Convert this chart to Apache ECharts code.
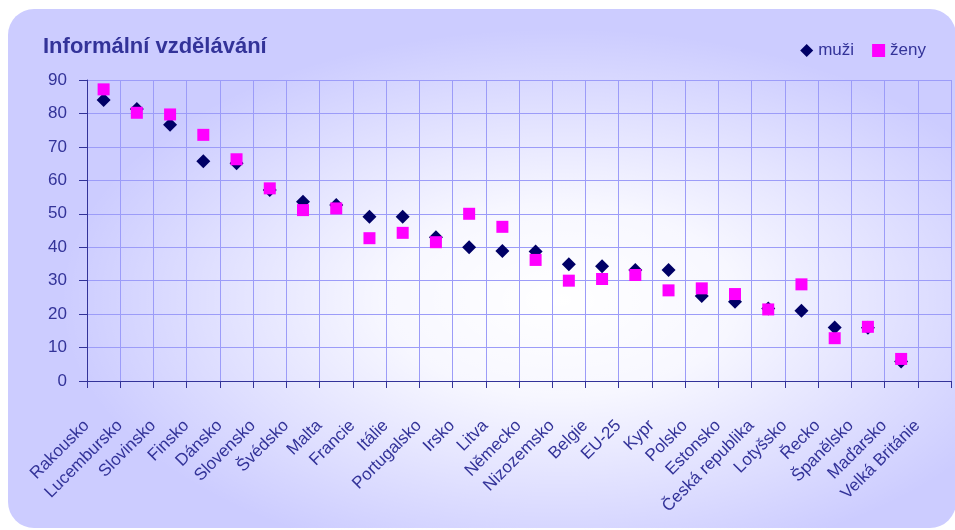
<!DOCTYPE html>
<html>
<head>
<meta charset="utf-8">
<script src="https://cdn.jsdelivr.net/npm/echarts@6/dist/echarts.min.js"></script>
<style>
html, body { margin: 0; padding: 0; background: #fff; }
#chart { width: 955px; height: 530px; }
</style>
</head>
<body>
<div id="chart"></div>
<script>
const countries = ["Rakousko", "Lucembursko", "Slovinsko", "Finsko", "Dánsko", "Slovensko", "Švédsko", "Malta",
    "Francie", "Itálie", "Portugalsko", "Irsko", "Litva", "Německo", "Nizozemsko", "Belgie", "EU-25", "Kypr",
    "Polsko", "Estonsko", "Česká republika", "Lotyšsko", "Řecko", "Španělsko", "Maďarsko", "Velká Británie"];
const men = [84.0, 81.3, 76.6, 65.7, 65.1, 57.1, 53.6, 52.6, 49.1, 49.1, 43.0, 40.0, 38.9, 38.7, 34.9, 34.3,
    33.2, 33.2, 25.4, 23.7, 21.7, 21.0, 16.0, 15.9, 5.8, null];
const women = [87.2, 80.2, 79.7, 73.6, 66.3, 57.6, 51.1, 51.6, 42.7, 44.3, 41.5, 50.0, 46.1, 36.2, 30.0, 30.5,
    31.7, 27.1, 27.7, 26.0, 21.4, 28.9, 12.8, 16.2, 6.6, null];
const yTicks = { min: 0, max: 90, interval: 10 };

const font = 'Arial, "Liberation Sans", sans-serif';
const textColor = '#333399';

const chart = echarts.init(document.getElementById('chart'));

chart.setOption({
    animation: false,
    textStyle: { fontFamily: font },
    graphic: [
        {
            type: 'rect', left: 8, top: 9, z: -10,
            shape: { width: 948, height: 519, r: 26 },
            style: { fill: '#ccccff' }
        },
        {
            type: 'circle', x: 560, y: 300, scaleX: 1.25, scaleY: 0.68, z: -9,
            shape: { cx: 0, cy: 0, r: 400 },
            style: {
                fill: new echarts.graphic.RadialGradient(0.5, 0.5, 0.5, [
                    { offset: 0, color: 'rgba(255,255,255,1)' },
                    { offset: 0.35, color: 'rgba(255,255,255,0.85)' },
                    { offset: 1, color: 'rgba(255,255,255,0)' }
                ])
            }
        }
    ],
    title: {
        text: 'Informální vzdělávání',
        left: 38, top: 31,
        textStyle: { fontFamily: font, fontSize: 22, fontWeight: 'bold', color: textColor }
    },
    legend: {
        right: 24, top: 37,
        itemWidth: 13, itemHeight: 13, itemGap: 18,
        textStyle: { fontFamily: font, fontSize: 17, color: textColor },
        data: [
            { name: 'muži', icon: 'diamond' },
            { name: 'ženy', icon: 'rect' }
        ]
    },
    grid: { left: 87, right: 4, top: 80, bottom: 149 },
    xAxis: {
        type: 'category',
        data: countries,
        boundaryGap: true,
        axisLine: { lineStyle: { color: '#333399', width: 1 } },
        axisTick: { show: true, length: 7, lineStyle: { color: '#333399' } },
        axisLabel: {
            interval: 0, rotate: 45, margin: 25, padding: [0, 24, 0, 0],
            fontFamily: font, fontSize: 17, color: textColor
        },
        splitLine: { show: true, lineStyle: { color: '#9c9cf8', width: 1 } }
    },
    yAxis: {
        type: 'value',
        min: yTicks.min, max: yTicks.max, interval: yTicks.interval,
        axisLine: { show: true, lineStyle: { color: '#333399', width: 1 } },
        axisTick: { show: true, length: 8, lineStyle: { color: '#333399' } },
        axisLabel: { margin: 20, fontFamily: font, fontSize: 17, color: textColor },
        splitLine: { show: true, lineStyle: { color: '#9c9cf8', width: 1 } }
    },
    series: [
        {
            name: 'muži', type: 'scatter', symbol: 'diamond', symbolSize: 14,
            itemStyle: { color: '#000066', opacity: 1 },
            data: men
        },
        {
            name: 'ženy', type: 'scatter', symbol: 'rect', symbolSize: 12,
            itemStyle: { color: '#ff00ff', opacity: 1 },
            data: women
        }
    ]
});

window.addEventListener('resize', () => chart.resize());
</script>
</body>
</html>
